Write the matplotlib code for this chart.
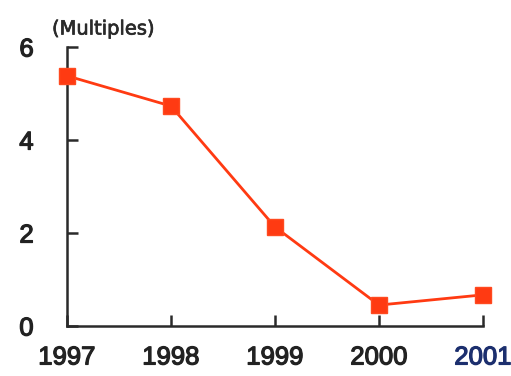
import matplotlib
matplotlib.use("Agg")
import matplotlib.pyplot as plt
import matplotlib.patheffects as pe

years = ["1997", "1998", "1999", "2000", "2001"]
multiples = [5.38, 4.73, 2.13, 0.45, 0.67]
yticks = [0, 2, 4, 6]

plt.rcParams["font.family"] = ["Liberation Sans", "DejaVu Sans"]

fig = plt.figure(figsize=(5.11, 3.76), dpi=100)
ax = fig.add_axes([67 / 511, 50 / 376, (483 - 67) / 511, (326 - 47) / 376])

x = list(range(len(years)))
ax.plot(x, multiples, color="#ff3a12", lw=2.0, marker="s", markersize=11,
        markerfacecolor="#ff3a12", markeredgecolor="#ff4a20", clip_on=False, zorder=3)

ax.set_xlim(0, len(years) - 1)
ax.set_ylim(0, 6)
ax.set_xticks(x)
ax.set_xticklabels(years)
ax.set_yticks(yticks)

for side in ("top", "right"):
    ax.spines[side].set_visible(False)
for side in ("left", "bottom"):
    ax.spines[side].set_linewidth(1.8)
    ax.spines[side].set_color("#2a2a2a")

ax.tick_params(axis="both", direction="in", length=8, width=1.8, color="#2a2a2a",
               labelsize=18.5, labelcolor="#222222")
ax.tick_params(axis="x", pad=14)
ax.tick_params(axis="y", pad=24)
for lbl in ax.get_xticklabels() + ax.get_yticklabels():
    lbl.set_path_effects([pe.withStroke(linewidth=0.9, foreground=lbl.get_color())])
last = ax.get_xticklabels()[-1]
last.set_color("#1c2f6e")
last.set_path_effects([pe.withStroke(linewidth=0.9, foreground="#1c2f6e")])

fig.text(52 / 511, 1 - 29 / 376, "(Multiples)", fontsize=14, color="#2a2a2a",
         family="DejaVu Sans", ha="left", va="center",
         path_effects=[pe.withStroke(linewidth=0.5, foreground="#2a2a2a")])

fig.savefig("out.png", dpi=100, facecolor="white")
